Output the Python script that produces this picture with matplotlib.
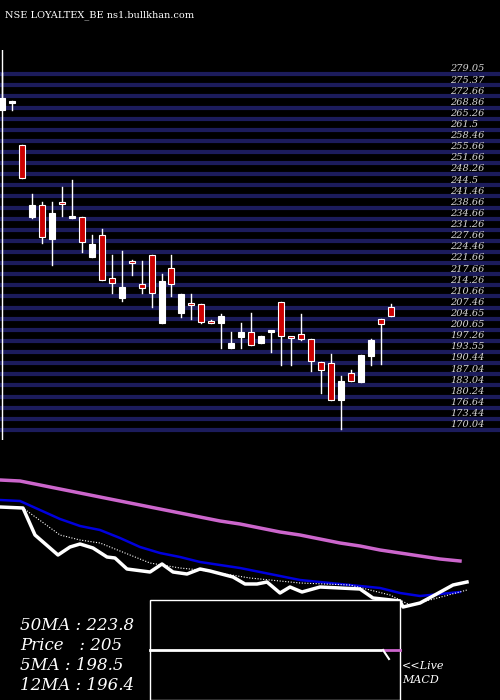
import matplotlib
matplotlib.use("Agg")
import matplotlib.pyplot as plt

opens  = [267.9,270.1,257.2,235.2,238.8,228.4,239.5,234.9,235.2,222.9,229.7,216.5,210.4,221.4,214.7,223.6,202.7,219.6,205.8,208.6,
          208.6,203.1,202.7,195.1,198.5,200.0,196.6,200.0,209.2,198.5,199.4,197.8,190.8,190.5,179.2,187.4,184.7,192.6,204.0,207.6]
closes = [271.6,270.7,247.1,238.8,229.1,236.4,239.2,235.1,227.5,226.9,215.9,215.0,213.8,221.0,213.5,211.9,215.6,214.7,211.6,208.3,
          203.1,202.8,204.9,196.6,200.0,196.0,198.8,200.3,198.8,198.2,197.8,191.1,188.4,179.2,185.0,185.0,193.0,197.5,202.4,204.9]
highs  = [279.2,270.7,257.2,242.2,239.8,239.8,244.4,246.5,235.2,229.7,231.5,223.6,224.8,222.0,221.7,223.6,217.7,223.6,211.6,211.6,
          208.6,203.6,205.5,200.0,202.7,205.8,198.8,200.3,209.2,198.5,205.5,197.8,190.8,193.3,186.5,188.4,193.0,197.8,204.0,208.6]
lows   = [267.9,267.9,247.1,234.9,227.2,220.5,235.5,234.9,224.5,222.9,215.9,211.9,209.5,217.4,211.9,207.6,202.7,211.0,204.6,204.0,
          202.7,202.7,195.1,195.1,195.1,196.0,196.6,193.9,189.9,189.9,197.5,188.1,181.3,179.2,170.3,185.0,184.7,189.9,190.2,204.9]
red    = [0,0,1,0,1,0,1,0,1,0,1,1,0,1,1,1,0,1,0,1,1,1,0,0,0,1,0,0,1,1,1,1,1,1,0,1,0,0,1,1]

tick_labels = ["279.05","275.37","272.66","268.86","265.26","261.5","258.46","255.66","251.66","248.26","244.5",
               "241.46","238.66","234.66","231.26","227.66","224.46","221.66","217.66","214.26","210.66","207.46",
               "204.65","200.65","197.26","193.55","190.44","187.04","183.04","180.24","176.64","173.44","170.04"]

ma_x = [0,20,40,60,80,100,120,140,160,180,200,220,240,260,280,300,320,340,360,380,400,420,440,460]
ma50 = [480,481,485,489,493,497,501,505,509,513,517,521,524,528,532,535,539,543,546,550,553,556,559,561]
ma12 = [500,501,510,519,526,530,538,547,553,557,562,565,568,572,576,580,582,584,586,588,593,596,594,592]
px_x = [0,23,35,58,70,80,93,107,115,127,150,162,173,187,200,210,233,245,257,267,280,290,302,320,360,373,400,403,420,433,453,467]
px_y = [507,508,535,555,547,544,548,557,558,569,572,564,572,574,569,571,577,584,584,582,593,587,592,587,589,598,601,607,603,596,585,582]
ma5_x = [0,23,60,80,100,120,150,180,200,250,300,350,390,410,430,467]
ma5_y = [507,508,535,540,543,551,563,568,570,578,583,585,595,605,600,590]

fig = plt.figure(figsize=(5,7), dpi=100, facecolor="black")
ax = fig.add_axes([0, 260/700, 1, 390/700], facecolor="black")
ax.set_xlim(-0.2, 49.95)
ax.set_ylim(166.9, 286.3)
ax.axis("off")
n = len(tick_labels)
top, bot = 278.9, 170.0
for k, lab in enumerate(tick_labels):
    v = top - k*(top-bot)/(n-1)
    ax.axhline(v, color="#1c1c5c", lw=3, zorder=0)
    ax.text(0.9, v+1.6, lab, transform=ax.get_yaxis_transform(), color="#d8d8d8",
            fontsize=7, family="DejaVu Serif", style="italic", va="center", ha="left")
ax.plot([0.0,0.0],[166.9,286.3],color="white",lw=1)
for i in range(len(opens)):
    ax.plot([i,i],[lows[i],highs[i]],color="white",lw=1,zorder=2)
    b = min(opens[i],closes[i]); h = max(abs(opens[i]-closes[i]),0.6)
    ax.add_patch(plt.Rectangle((i-0.3,b),0.6,h,facecolor="#cc0000" if red[i] else "white",
                               edgecolor="white",lw=0.8,zorder=3))
fig.text(0.01, 0.985, "NSE LOYALTEX_BE ns1.bullkhan.com", color="white", fontsize=7, family="DejaVu Serif", va="top")

bx = fig.add_axes([0, 0, 1, 230/700], facecolor="black")
bx.set_xlim(0,500); bx.set_ylim(700,470); bx.axis("off")
bx.plot(ma_x, ma50, color="#cc66cc", lw=2.5)
bx.plot(ma_x, ma12, color="#0000dd", lw=1.8)
bx.plot(ma5_x, ma5_y, color="white", lw=0.8, ls=(0,(1,1.5)))
bx.plot(px_x, px_y, color="white", lw=2.5)
bx.add_patch(plt.Rectangle((150,600),250,100,facecolor="black",edgecolor="white",lw=1,zorder=5))
bx.plot([150,383],[650,650],color="white",lw=2,zorder=6)
bx.plot([383,400],[650,650],color="#cc66cc",lw=2,zorder=6)
bx.plot([383,389],[650,659],color="white",lw=1.5,zorder=6)
for yy, t in zip([625,645,665,685],["50MA : 223.8","Price   : 205","5MA : 198.5","12MA : 196.4"]):
    bx.text(20, yy, t, color="white", fontsize=12, family="DejaVu Serif", style="italic", va="center")
bx.text(402,666,"<<Live",color="white",fontsize=8,family="DejaVu Serif",style="italic",va="center")
bx.text(402,680,"MACD",color="white",fontsize=8,family="DejaVu Serif",style="italic",va="center")
fig.savefig("out.png", dpi=100, facecolor="black")
